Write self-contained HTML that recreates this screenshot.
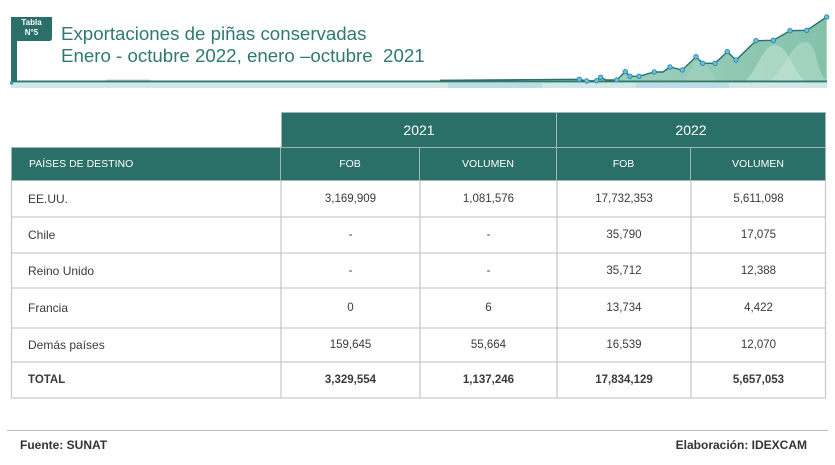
<!DOCTYPE html>
<html><head><meta charset="utf-8">
<style>
html,body{margin:0;padding:0;background:#fff;}
body{width:835px;height:465px;position:relative;overflow:hidden;font-family:"Liberation Sans",Arial,sans-serif;}
.abs{position:absolute;}
.title{left:61px;color:#2e7a70;font-size:18.7px;white-space:nowrap;line-height:22px;}
.hd{background:#2a7068;color:#fff;display:flex;align-items:center;justify-content:center;box-sizing:border-box;}
.cell{display:flex;align-items:center;justify-content:center;color:#3a3a3a;font-size:11.5px;box-sizing:border-box;}
.name{justify-content:flex-start;padding-left:17px;font-size:12px;}
</style></head><body>

<svg class="abs" style="left:0;top:0" width="835" height="95" viewBox="0 0 835 95">
  <defs>
    <linearGradient id="ag" x1="0" y1="0" x2="1" y2="0">
      <stop offset="0" stop-color="#b4dccb"/>
      <stop offset="1" stop-color="#84c2ab"/>
    </linearGradient>
  </defs>
  <!-- strip -->
  <rect x="11" y="83" width="816" height="5" fill="#d2e8e8"/>
  <rect x="448" y="83" width="94" height="5" fill="#bcdce6"/>
  <rect x="636" y="83" width="93" height="5" fill="#bcdce6"/>
  <!-- area -->
  <polygon fill="url(#ag)" points="440,80.3 579.3,79.3 586.7,81 596.7,80.7 600.7,77.3 606,80 616.7,80 625.3,71.7 630,76.3 639,76.3 654.3,72 663,72 670,67 682.3,70 696,56.7 702.7,63.3 715,63.3 727.3,51.7 736,60 756,40.7 773.3,40.3 790,30.7 806.7,30.3 826.7,17 826.7,82 440,82"/>
  <path d="M740,82 C755,82 760,45 775,45 C790,45 795,82 810,82 Z" fill="#c6e6d8" opacity="0.55"/>
  <path d="M765,82 C780,82 790,42 805,42 C818,42 815,70 826,80 L826,82 Z" fill="#c6e6d8" opacity="0.45"/>
  <path d="M680,82 C690,82 690,60 700,60 C710,60 712,82 720,82 Z" fill="#a6d6c2" opacity="0.5"/>
  <!-- base line -->
  <rect x="11" y="80.5" width="816" height="2" fill="#2f7a6e"/>
  <rect x="106" y="79.6" width="44" height="1" fill="#8fb0a8" opacity="0.6"/>
  <!-- vertical bar + badge -->
  <rect x="11" y="17" width="6" height="65" fill="#2a7068"/>
  <path d="M11,17 H52 V38 Q52,41 49,41 H11 Z" fill="#2a7068"/>
  <circle cx="11.5" cy="83" r="1.8" fill="#3a9cc0"/>
  <!-- line -->
  <polyline fill="none" stroke="#2a7068" stroke-width="1.4" points="440,80.3 579.3,79.3 586.7,81 596.7,80.7 600.7,77.3 606,80 616.7,80 625.3,71.7 630,76.3 639,76.3 654.3,72 663,72 670,67 682.3,70 696,56.7 702.7,63.3 715,63.3 727.3,51.7 736,60 756,40.7 773.3,40.3 790,30.7 806.7,30.3 826.7,17"/>
  <g fill="#6cc0dc" stroke="#2c8db5" stroke-width="1">
    <circle cx="579.3" cy="79.3" r="2.2"/><circle cx="586.7" cy="81" r="2.2"/><circle cx="596.7" cy="80.7" r="2.2"/>
    <circle cx="600.7" cy="77.3" r="2.2"/><circle cx="616.7" cy="80" r="2.2"/><circle cx="625.3" cy="71.7" r="2.2"/>
    <circle cx="630" cy="76.3" r="2.2"/><circle cx="639" cy="76.3" r="2.2"/><circle cx="654.3" cy="72" r="2.2"/>
    <circle cx="670" cy="67" r="2.2"/><circle cx="682.3" cy="70" r="2.2"/><circle cx="696" cy="56.7" r="2.2"/>
    <circle cx="702.7" cy="63.3" r="2.2"/><circle cx="715" cy="63.3" r="2.2"/><circle cx="727.3" cy="51.7" r="2.2"/>
    <circle cx="736" cy="60" r="2.2"/><circle cx="756" cy="40.7" r="2.2"/><circle cx="773.3" cy="40.3" r="2.2"/>
    <circle cx="790" cy="30.7" r="2.2"/><circle cx="806.7" cy="30.3" r="2.2"/><circle cx="826.7" cy="17" r="2.2"/>
  </g>
</svg>

<div class="abs" style="left:11px;top:18px;width:41px;text-align:center;color:#fff;font-size:8px;font-weight:bold;line-height:10px;">Tabla<br>N°5</div>
<div class="abs title" style="top:23px;">Exportaciones de piñas conservadas</div>
<div class="abs title" style="top:45px;">Enero - octubre 2022, enero –octubre&nbsp; 2021</div>

<!-- Table -->
<div class="abs hd" style="left:281px;top:112px;width:276px;height:35px;font-size:14px;border:1px solid #9fb8b3;border-bottom:none;">2021</div>
<div class="abs hd" style="left:557px;top:112px;width:269px;height:35px;font-size:14px;border:1px solid #9fb8b3;border-bottom:none;border-left:none;">2022</div>

<div class="abs hd" style="left:11px;top:147px;width:270px;height:34px;font-size:10.5px;justify-content:flex-start;padding-left:17px;border:1px solid #9fb8b3;">PAÍSES DE DESTINO</div>
<div class="abs hd" style="left:281px;top:147px;width:139px;height:34px;font-size:10.5px;border:1px solid #9fb8b3;border-left:none;">FOB</div>
<div class="abs hd" style="left:420px;top:147px;width:137px;height:34px;font-size:10.5px;border:1px solid #9fb8b3;border-left:none;">VOLUMEN</div>
<div class="abs hd" style="left:557px;top:147px;width:134px;height:34px;font-size:10.5px;border:1px solid #9fb8b3;border-left:none;">FOB</div>
<div class="abs hd" style="left:691px;top:147px;width:135px;height:34px;font-size:10.5px;border:1px solid #9fb8b3;border-left:none;">VOLUMEN</div>

<svg class="abs" style="left:0;top:0" width="835" height="465">
  <g stroke="#c9c9c9" stroke-width="1.3" fill="none">
    <line x1="11.5" y1="181" x2="11.5" y2="398.5"/>
    <line x1="281" y1="181" x2="281" y2="398.5"/>
    <line x1="420" y1="181" x2="420" y2="398.5"/>
    <line x1="557" y1="181" x2="557" y2="398.5"/>
    <line x1="691" y1="181" x2="691" y2="398.5"/>
    <line x1="825.5" y1="181" x2="825.5" y2="398.5"/>
    <line x1="11" y1="217" x2="826" y2="217"/>
    <line x1="11" y1="253" x2="826" y2="253"/>
    <line x1="11" y1="288" x2="826" y2="288"/>
    <line x1="11" y1="328" x2="826" y2="328"/>
    <line x1="11" y1="362" x2="826" y2="362"/>
    <line x1="11" y1="398" x2="826" y2="398"/>
  </g>
  <line x1="7" y1="430.5" x2="828" y2="430.5" stroke="#bdbdbd" stroke-width="1"/>
</svg>

<!-- rows -->
<div id="rows"></div>
<div class="abs cell name" style="left:11px;top:181px;width:270px;height:36px;">EE.UU.</div>
<div class="abs cell" style="left:281px;top:181px;width:139px;height:36px;">3,169,909</div>
<div class="abs cell" style="left:420px;top:181px;width:137px;height:36px;">1,081,576</div>
<div class="abs cell" style="left:557px;top:181px;width:134px;height:36px;">17,732,353</div>
<div class="abs cell" style="left:691px;top:181px;width:135px;height:36px;">5,611,098</div>

<div class="abs cell name" style="left:11px;top:217px;width:270px;height:36px;">Chile</div>
<div class="abs cell" style="left:281px;top:217px;width:139px;height:36px;">-</div>
<div class="abs cell" style="left:420px;top:217px;width:137px;height:36px;">-</div>
<div class="abs cell" style="left:557px;top:217px;width:134px;height:36px;">35,790</div>
<div class="abs cell" style="left:691px;top:217px;width:135px;height:36px;">17,075</div>

<div class="abs cell name" style="left:11px;top:253px;width:270px;height:35px;">Reino Unido</div>
<div class="abs cell" style="left:281px;top:253px;width:139px;height:35px;">-</div>
<div class="abs cell" style="left:420px;top:253px;width:137px;height:35px;">-</div>
<div class="abs cell" style="left:557px;top:253px;width:134px;height:35px;">35,712</div>
<div class="abs cell" style="left:691px;top:253px;width:135px;height:35px;">12,388</div>

<div class="abs cell name" style="left:11px;top:288px;width:270px;height:40px;">Francia</div>
<div class="abs cell" style="left:281px;top:288px;width:139px;height:40px;">0</div>
<div class="abs cell" style="left:420px;top:288px;width:137px;height:40px;">6</div>
<div class="abs cell" style="left:557px;top:288px;width:134px;height:40px;">13,734</div>
<div class="abs cell" style="left:691px;top:288px;width:135px;height:40px;">4,422</div>

<div class="abs cell name" style="left:11px;top:328px;width:270px;height:34px;">Demás países</div>
<div class="abs cell" style="left:281px;top:328px;width:139px;height:34px;">159,645</div>
<div class="abs cell" style="left:420px;top:328px;width:137px;height:34px;">55,664</div>
<div class="abs cell" style="left:557px;top:328px;width:134px;height:34px;">16,539</div>
<div class="abs cell" style="left:691px;top:328px;width:135px;height:34px;">12,070</div>

<div class="abs cell name" style="left:11px;top:362px;width:270px;height:36px;font-weight:bold;font-size:11.5px;">TOTAL</div>
<div class="abs cell" style="left:281px;top:362px;width:139px;height:36px;font-weight:bold;">3,329,554</div>
<div class="abs cell" style="left:420px;top:362px;width:137px;height:36px;font-weight:bold;">1,137,246</div>
<div class="abs cell" style="left:557px;top:362px;width:134px;height:36px;font-weight:bold;">17,834,129</div>
<div class="abs cell" style="left:691px;top:362px;width:135px;height:36px;font-weight:bold;">5,657,053</div>

<div class="abs" style="left:20px;top:437px;font-size:12px;font-weight:bold;color:#333;line-height:16px;">Fuente: SUNAT</div>
<div class="abs" style="right:28px;top:437px;font-size:12px;font-weight:bold;color:#333;line-height:16px;">Elaboración: IDEXCAM</div>

</body></html>
